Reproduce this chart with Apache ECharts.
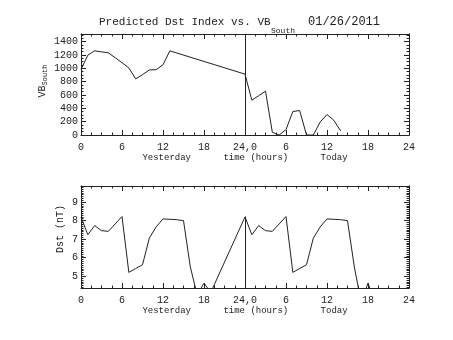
<!DOCTYPE html>
<html>
<head>
<meta charset="utf-8">
<script src="https://cdn.jsdelivr.net/npm/echarts@6/dist/echarts.min.js"></script>
<style>
html, body { margin: 0; padding: 0; background: #fff; }
#chart { width: 453px; height: 340px; }
</style>
</head>
<body>
<div id="chart"></div>
<script>
// Hours since the start of yesterday (0..48); gaps are hours with no data
const vbHours = [0, 1, 2, 3, 4, 5, 6, 7, 8, 9, 10, 11, 12, 13,
                 24, 25, 26, 27, 28, 29, 30, 31, 32, 33, 34, 35, 36, 37, 38];
const vbValues = [983, 1198, 1263, 1248, 1233, 1160, 1085, 1007, 842, 905, 977, 980, 1053, 1263,
                  913, 522, 590, 657, 41, 0, 81, 352, 367, 0, 0, 195, 307, 221, 60];

const dstHours = [0, 1, 2, 3, 4, 5, 6, 7, 8, 9, 10, 11, 12, 13, 14, 15, 16, 17, 18, 19,
                  24, 25, 26, 27, 28, 29, 30, 31, 32, 33, 34, 35, 36, 37, 38, 39, 40, 41, 42, 43];
const dstValues = [8.18, 7.24, 7.73, 7.46, 7.42, 7.82, 8.22, 5.21, 5.42, 5.62, 7.06, 7.66, 8.09, 8.07, 8.05, 8.00, 5.50, 4.00, 4.63, 4.14,
                   8.20, 7.24, 7.73, 7.46, 7.42, 7.82, 8.22, 5.21, 5.42, 5.62, 7.06, 7.66, 8.09, 8.07, 8.05, 8.00, 5.50, 3.60, 4.63, 3.60];

// Axis ticks and labels
const hourTicks = [0, 6, 12, 18, 24, 30, 36, 42, 48];
const hourLabels = ['0', '6', '12', '18', '24,0', '6', '12', '18', '24'];
const vbTicks = [0, 200, 400, 600, 800, 1000, 1200, 1400];
const dstTicks = [5, 6, 7, 8, 9];
const vbMinorStep = 50;
const dstMinorStep = 0.1;

const vbMax = Math.max(...vbValues) * 1.2;
const vbMin = 0;
const dstMax = Math.max(...dstValues) * 1.2;
const dstMin = 4.37;
const dstPeak = Math.max(...dstValues);

function steps(lo, hi, step) {
  const out = [];
  for (let v = Math.ceil(lo / step - 1e-9) * step; v <= hi + 1e-9; v += step) {
    out.push(Math.round(v * 1000) / 1000);
  }
  return out;
}

const FONT = 'Liberation Mono';
const INK = '#222';

function hourAxis(gridIndex, position, labels) {
  return {
    type: 'value', gridIndex, position, min: 0, max: 48, interval: 6,
    axisLine: { show: true, onZero: false, lineStyle: { color: INK, width: 1 } },
    axisTick: { show: true, inside: true, length: 5, lineStyle: { color: INK } },
    minorTick: { show: true, splitNumber: 4, length: 2.5, lineStyle: { color: INK } },
    splitLine: { show: false },
    axisLabel: labels ? {
      show: true, margin: 7, color: INK, fontFamily: FONT, fontSize: 10,
      formatter: v => hourLabels[hourTicks.indexOf(v)]
    } : { show: false },
    name: labels ? 'Yesterday      time (hours)      Today' : '',
    nameLocation: 'middle', nameGap: 18,
    nameTextStyle: { color: INK, fontFamily: FONT, fontSize: 9 }
  };
}

function valueAxis(gridIndex, position, lo, hi, ticks, len, labels) {
  return {
    type: 'value', gridIndex, position, min: lo, max: hi,
    axisLine: { show: true, onZero: false, lineStyle: { color: INK, width: 1 } },
    axisTick: { show: true, inside: true, length: len, customValues: ticks, lineStyle: { color: INK } },
    splitLine: { show: false },
    axisLabel: labels ? {
      show: true, margin: 3, color: INK, fontFamily: FONT, fontSize: 10, customValues: ticks,
      formatter: v => String(v)
    } : { show: false }
  };
}

const vbMinor = steps(vbMin, vbMax, vbMinorStep);
const dstMinor = steps(dstMin, dstMax, dstMinorStep);

const option = {
  animation: false,
  backgroundColor: '#fff',
  grid: [
    { left: 81, right: 44, top: 34, height: 101 },
    { left: 81, right: 44, top: 186, height: 102 }
  ],
  xAxis: [
    hourAxis(0, 'bottom', true),
    hourAxis(0, 'top', false),
    hourAxis(1, 'bottom', true),
    hourAxis(1, 'top', false)
  ],
  yAxis: [
    valueAxis(0, 'left', vbMin, vbMax, vbTicks, 5, true),
    valueAxis(0, 'left', vbMin, vbMax, vbMinor, 2.5, false),
    valueAxis(0, 'right', vbMin, vbMax, vbTicks, 5, false),
    valueAxis(0, 'right', vbMin, vbMax, vbMinor, 2.5, false),
    valueAxis(1, 'left', dstMin, dstMax, dstTicks, 5, true),
    valueAxis(1, 'left', dstMin, dstMax, dstMinor, 2.5, false),
    valueAxis(1, 'right', dstMin, dstMax, dstTicks, 5, false),
    valueAxis(1, 'right', dstMin, dstMax, dstMinor, 2.5, false)
  ],
  series: [
    {
      type: 'line', xAxisIndex: 0, yAxisIndex: 0,
      data: vbHours.map((h, i) => [h, vbValues[i]]),
      showSymbol: false, clip: true,
      lineStyle: { color: INK, width: 1 },
      markLine: {
        silent: true, symbol: 'none', label: { show: false },
        lineStyle: { color: INK, width: 1, type: 'solid' },
        data: [[{ coord: [24, vbMin] }, { coord: [24, vbMax] }]]
      }
    },
    {
      type: 'line', xAxisIndex: 2, yAxisIndex: 4,
      data: dstHours.map((h, i) => [h, dstValues[i]]),
      showSymbol: false, clip: true,
      lineStyle: { color: INK, width: 1 },
      markLine: {
        silent: true, symbol: 'none', label: { show: false },
        lineStyle: { color: INK, width: 1, type: 'solid' },
        data: [[{ coord: [24, dstMin] }, { coord: [24, dstPeak] }]]
      }
    }
  ],
  graphic: [
    { type: 'text', left: 99, top: 17, style: { text: 'Predicted Dst Index vs. VB', fill: INK, font: '11px "' + FONT + '"' } },
    { type: 'text', left: 271, top: 27, style: { text: 'South', fill: INK, font: '8px "' + FONT + '"' } },
    { type: 'text', left: 308, top: 16, style: { text: '01/26/2011', fill: INK, font: '12px "' + FONT + '"' } },
    {
      type: 'text', x: 42, y: 81, rotation: Math.PI / 2,
      style: {
        text: '{m|VB}{s|South}', align: 'center', verticalAlign: 'middle',
        rich: {
          m: { fill: INK, fontFamily: FONT, fontSize: 10 },
          s: { fill: INK, fontFamily: FONT, fontSize: 7, padding: [7, 0, 0, 0] }
        }
      }
    },
    {
      type: 'text', x: 60, y: 229, rotation: Math.PI / 2,
      style: { text: 'Dst (nT)', align: 'center', verticalAlign: 'middle', fill: INK, font: '10px "' + FONT + '"' }
    }
  ]
};

echarts.init(document.getElementById('chart'), null, { renderer: 'canvas' }).setOption(option);
</script>
</body>
</html>
